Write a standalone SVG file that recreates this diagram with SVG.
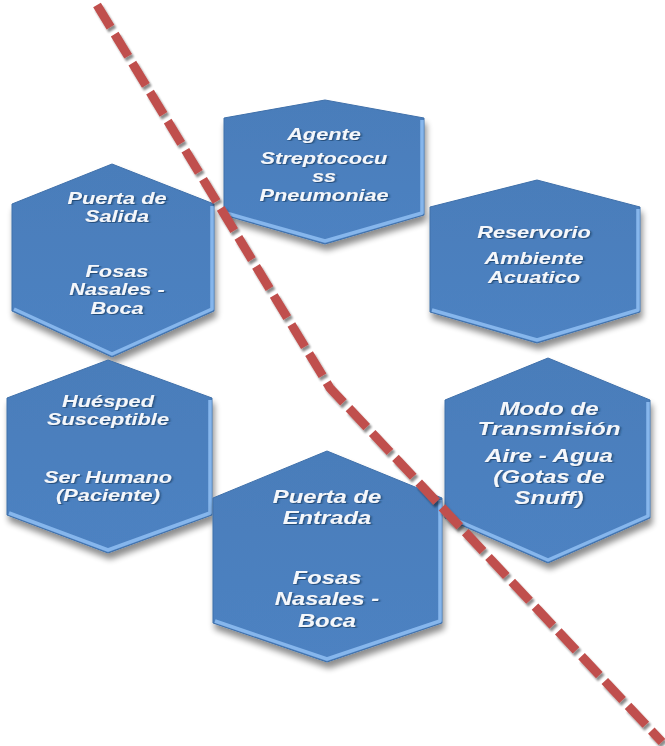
<svg xmlns="http://www.w3.org/2000/svg" width="665" height="746" viewBox="0 0 665 746">
<defs>
<filter id="sh" x="-20%" y="-20%" width="140%" height="150%">
<feGaussianBlur in="SourceAlpha" stdDeviation="3"/>
<feOffset dx="2" dy="6" result="b"/>
<feComponentTransfer><feFuncA type="linear" slope="0.45"/></feComponentTransfer>
<feMerge><feMergeNode/><feMergeNode in="SourceGraphic"/></feMerge>
</filter>
<filter id="tsh" x="-10%" y="-30%" width="120%" height="160%">
<feDropShadow dx="1" dy="1" stdDeviation="0.6" flood-color="#1d3d66" flood-opacity="0.8"/>
</filter>
<filter id="lsh" x="-10%" y="-10%" width="120%" height="120%">
<feGaussianBlur in="SourceAlpha" stdDeviation="0.8"/>
<feOffset dx="2" dy="3"/>
<feComponentTransfer><feFuncA type="linear" slope="0.45"/></feComponentTransfer>
<feMerge><feMergeNode/><feMergeNode in="SourceGraphic"/></feMerge>
</filter>
<linearGradient id="hg" x1="0" y1="0" x2="0" y2="1">
<stop offset="0" stop-color="#4a7dba"/>
<stop offset="1" stop-color="#4d82c2"/>
</linearGradient>
</defs>
<style>
.hex{fill:url(#hg);stroke:#3f70aa;stroke-width:1}
.bev{fill:none;stroke:#86b6ec;stroke-width:3.5;stroke-linejoin:round}
.t{font-family:"Liberation Sans",Arial,sans-serif;font-weight:bold;font-style:italic;font-size:16px;fill:#f4f7fb;text-anchor:middle}
.t2{font-size:17.5px}
.dash{fill:none;stroke:#c0504d;stroke-width:9;stroke-dasharray:26 8}
</style>

<g id="agente" filter="url(#sh)">
<polygon class="hex" points="325,100 424,118 424,215 325,244 224,215 224,118"/>
<polyline class="bev" points="226,213 325,241 422,213 422,120"/>
<g filter="url(#tsh)" transform="translate(324,0) scale(1.36,1)">
<text class="t" x="0" y="140">Agente</text>
<text class="t" x="0" y="164">Streptococu</text>
<text class="t" x="0" y="182.5">ss</text>
<text class="t" x="0" y="201">Pneumoniae</text>
</g>
</g>

<g id="puerta-salida" filter="url(#sh)">
<polygon class="hex" points="112,164 214,204 214,311 112,357 12,311 12,204"/>
<polyline class="bev" points="14,309 112,354 212,309 212,206"/>
<g filter="url(#tsh)" transform="translate(117,0) scale(1.36,1)">
<text class="t" x="0" y="204">Puerta de</text>
<text class="t" x="0" y="222.5">Salida</text>
<text class="t" x="0" y="277">Fosas</text>
<text class="t" x="0" y="295.5">Nasales -</text>
<text class="t" x="0" y="314">Boca</text>
</g>
</g>

<g id="reservorio" filter="url(#sh)">
<polygon class="hex" points="537,180 640,207 640,312 537,343 430,312 430,207"/>
<polyline class="bev" points="432,310 537,340 638,310 638,209"/>
<g filter="url(#tsh)" transform="translate(534,0) scale(1.36,1)">
<text class="t" x="0" y="238">Reservorio</text>
<text class="t" x="0" y="264">Ambiente</text>
<text class="t" x="0" y="283">Acuatico</text>
</g>
</g>

<g id="huesped" filter="url(#sh)">
<polygon class="hex" points="108,360 212,398 212,515 108,553 7,515 7,398"/>
<polyline class="bev" points="9,513 108,550 210,513 210,400"/>
<g filter="url(#tsh)" transform="translate(108,0) scale(1.36,1)">
<text class="t" x="0" y="407">Huésped</text>
<text class="t" x="0" y="425.5">Susceptible</text>
<text class="t" x="0" y="483">Ser Humano</text>
<text class="t" x="0" y="501.5">(Paciente)</text>
</g>
</g>

<g id="modo" filter="url(#sh)">
<polygon class="hex" points="548,358 650,400 650,518 548,563 445,518 445,400"/>
<polyline class="bev" points="447,516 548,560 648,516 648,402"/>
<g filter="url(#tsh)" transform="translate(549,0) scale(1.38,1)">
<text class="t t2" x="0" y="415">Modo de</text>
<text class="t t2" x="0" y="435.5">Transmisión</text>
<text class="t t2" x="0" y="462">Aire - Agua</text>
<text class="t t2" x="0" y="483">(Gotas de</text>
<text class="t t2" x="0" y="504">Snuff)</text>
</g>
</g>

<g id="puerta-entrada" filter="url(#sh)">
<polygon class="hex" points="327,451 442,498 442,623 327,662 213,623 213,498"/>
<polyline class="bev" points="215,621 327,659 440,621 440,500"/>
<g filter="url(#tsh)" transform="translate(327,0) scale(1.36,1)">
<text class="t t2" x="0" y="503">Puerta de</text>
<text class="t t2" x="0" y="524">Entrada</text>
<text class="t t2" x="0" y="584">Fosas</text>
<text class="t t2" x="0" y="605">Nasales -</text>
<text class="t t2" x="0" y="627">Boca</text>
</g>
</g>

<g id="connectors" filter="url(#lsh)">
<path class="dash" d="M97,5 L330,388 L662,742"/>
</g>
</svg>
